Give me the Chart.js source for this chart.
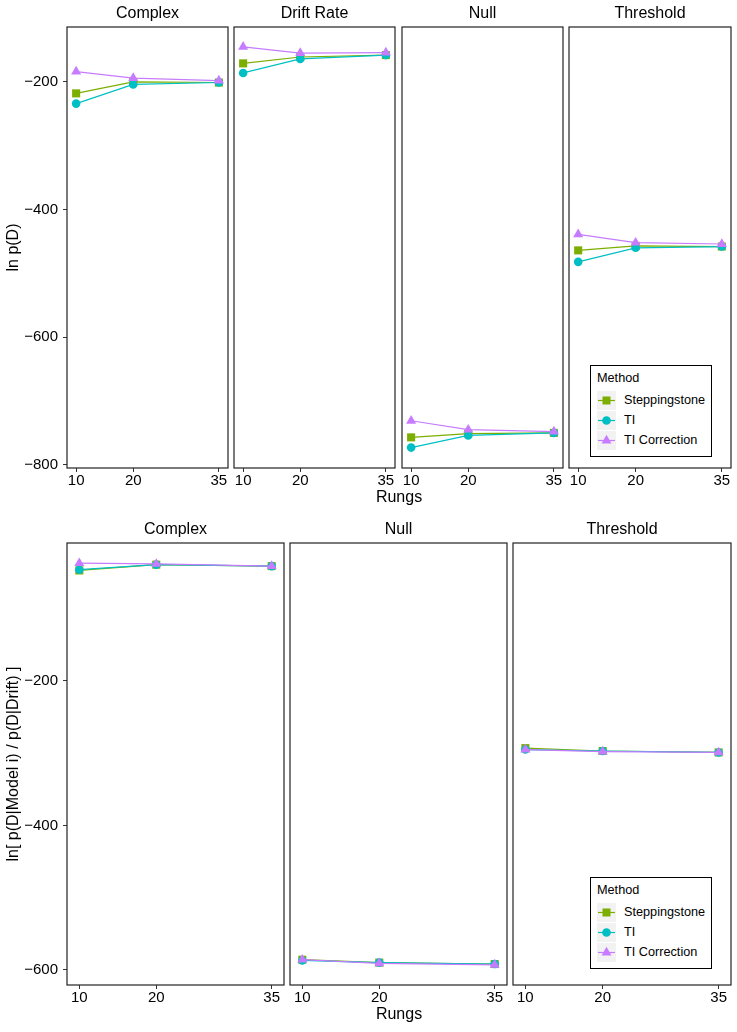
<!DOCTYPE html>
<html>
<head>
<meta charset="utf-8">
<script src="https://cdn.jsdelivr.net/npm/chart.js@4.4.0/dist/chart.umd.min.js"></script>
<style>
body { margin: 0; background: #fff; font-family: "Liberation Sans", Arial, sans-serif; }
#page { position: relative; width: 737px; height: 1032px; overflow: hidden; }
#page canvas { position: absolute; }
.rungs { position: absolute; width: 120px; text-align: center; font-size: 16px; line-height: 18px; color: #000; }
.legend { position: absolute; width: 122px; height: 92px; border: 1px solid #000; box-sizing: border-box; background: #fff; font-size: 12.7px; color: #000; }
.legend .ttl { position: absolute; left: 6px; top: 4px; line-height: 16px; }
.legend .row { position: absolute; left: 6px; height: 19px; }
.legend .row svg { position: absolute; left: 0; top: 0; }
.legend .row span { position: absolute; left: 27px; top: 1px; line-height: 17px; white-space: nowrap; }
</style>
</head>
<body>
<div id="page"></div>
<script>
var rungs = [10, 20, 35]
var methods = ['Steppingstone', 'TI', 'TI Correction']
var methodColors = ['#7CAE00', '#00BFC4', '#C77CFF']
var methodShapes = ['rect', 'circle', 'triangle']

// top row: ln p(D), one inner array per facet
var topFacets = ['Complex', 'Drift Rate', 'Null', 'Threshold']
var topTicks = [-800, -600, -400, -200]
var topSteppingstone = [[-218, -200, -201], [-171, -161, -158], [-757, -751, -750], [-464, -457, -458]]
var topTI = [[-234, -204, -201], [-186, -164, -158], [-773, -754, -750], [-482, -460, -458]]
var topTICorrection = [[-184, -194, -198], [-145, -155, -154], [-731, -745, -748], [-439, -452, -454]]

// bottom row: ln[ p(D|Model i) / p(D|Drift) ]
var bottomFacets = ['Complex', 'Null', 'Threshold']
var bottomTicks = [-600, -400, -200]
var bottomSteppingstone = [[-47, -39, -41], [-586, -590, -592], [-293, -297, -299]]
var bottomTI = [[-46, -39, -41], [-587, -590, -592], [-295, -297, -299]]
var bottomTICorrection = [[-37, -38, -41], [-586, -591, -593], [-295, -298, -299]]

var font = '"Liberation Sans", Arial, sans-serif'
var page = document.getElementById('page')

var rows = [
    { facets: topFacets, series: [topSteppingstone, topTI, topTICorrection], ticks: topTicks,
      min: -805, max: -114, top: 27, bottom: 468, yTitle: 'ln p(D)', legendTop: 365,
      panels: [[67, 228], [234, 395], [402, 563], [569, 731]] },
    { facets: bottomFacets, series: [bottomSteppingstone, bottomTI, bottomTICorrection], ticks: bottomTicks,
      min: -621, max: -9, top: 543, bottom: 985, yTitle: 'ln[ p(D|Model i) / p(D|Drift) ]', legendTop: 877,
      panels: [[67, 284], [290, 507], [513, 731]] }
]

var radii = [5.7, 4.3, 5.8]
var titleH = 23
var axisH = 28

var panelBorder = {
    id: 'panelBorder',
    afterDatasetsDraw: function (chart) {
        var a = chart.chartArea, ctx = chart.ctx
        ctx.save()
        ctx.strokeStyle = '#222'
        ctx.lineWidth = 1.2
        ctx.strokeRect(a.left, a.top, a.right - a.left, a.bottom - a.top)
        ctx.restore()
    }
}

function minus(v) {
    return String(v).replace('-', '\u2212')
}

function makeFacet(row, f) {
    var p = row.panels[f]
    var first = f === 0
    var left = first ? 0 : p[0] - 2
    var canvas = document.createElement('canvas')
    canvas.width = p[1] + 2 - left
    canvas.height = titleH + (row.bottom - row.top) + axisH
    canvas.style.left = left + 'px'
    canvas.style.top = (row.top - titleH) + 'px'
    page.appendChild(canvas)

    var datasets = methods.map(function (m, i) {
        return {
            label: m,
            data: rungs.map(function (r, k) { return { x: r, y: row.series[i][f][k] } }),
            borderColor: methodColors[i],
            backgroundColor: methodColors[i],
            borderWidth: 1.2,
            pointStyle: methodShapes[i],
            pointRadius: radii[i],
            pointBorderWidth: 0,
            order: 2 - i
        }
    })

    new Chart(canvas, {
        type: 'line',
        data: { datasets: datasets },
        options: {
            responsive: false,
            animation: false,
            devicePixelRatio: 1,
            layout: { padding: { left: first ? 0 : 2, right: 2, top: 0, bottom: 0 }, autoPadding: false },
            plugins: {
                legend: { display: false },
                tooltip: { enabled: false },
                title: {
                    display: true, text: row.facets[f], color: '#000', fullSize: false,
                    font: { family: font, size: 16, weight: 'normal', lineHeight: 1.25 },
                    padding: { top: 0, bottom: 3 }
                }
            },
            scales: {
                x: {
                    type: 'linear', min: 8.4, max: 36.6,
                    afterBuildTicks: function (s) { s.ticks = rungs.map(function (v) { return { value: v } }) },
                    afterFit: function (s) { s.height = axisH },
                    grid: { drawOnChartArea: false, tickLength: 4, color: '#333' },
                    border: { display: false },
                    ticks: { font: { family: font, size: 15 }, color: '#000', padding: 0, maxRotation: 0 }
                },
                y: {
                    display: first, min: row.min, max: row.max,
                    afterBuildTicks: function (s) { s.ticks = row.ticks.map(function (v) { return { value: v } }) },
                    afterFit: function (s) { s.width = first ? 67 : 0 },
                    grid: { drawOnChartArea: false, tickLength: 4, color: '#333' },
                    border: { display: false },
                    ticks: { font: { family: font, size: 15 }, color: '#000', padding: 5, callback: minus },
                    title: {
                        display: true, text: row.yTitle, color: '#000',
                        font: { family: font, size: 16, weight: 'normal' },
                        padding: { top: 4, bottom: 0 }
                    }
                }
            }
        },
        plugins: [panelBorder]
    })
}

function keySvg(i) {
    var c = methodColors[i], s = methodShapes[i], shape
    if (s === 'rect') shape = '<rect x="5.5" y="5.5" width="8" height="8" fill="' + c + '"/>'
    else if (s === 'circle') shape = '<circle cx="9.5" cy="9.5" r="4.3" fill="' + c + '"/>'
    else shape = '<polygon points="9.5,3.7 14.5,12.4 4.5,12.4" fill="' + c + '"/>'
    return '<svg width="19" height="19"><rect width="19" height="19" fill="#F2F2F2"/>' +
        '<line x1="1" y1="9.5" x2="18" y2="9.5" stroke="' + c + '" stroke-width="1.2"/>' + shape + '</svg>'
}

function makeLegend(row) {
    var box = document.createElement('div')
    box.className = 'legend'
    box.style.left = '590px'
    box.style.top = row.legendTop + 'px'
    var html = '<div class="ttl">Method</div>'
    methods.forEach(function (m, i) {
        html += '<div class="row" style="top:' + (25 + i * 20) + 'px">' + keySvg(i) + '<span>' + m + '</span></div>'
    })
    box.innerHTML = html
    page.appendChild(box)
}

rows.forEach(function (row) {
    row.facets.forEach(function (name, f) { makeFacet(row, f) })
    var lab = document.createElement('div')
    lab.className = 'rungs'
    lab.textContent = 'Rungs'
    lab.style.left = (399 - 60) + 'px'
    lab.style.top = (row.bottom + 20) + 'px'
    page.appendChild(lab)
    makeLegend(row)
})
</script>
</body>
</html>
